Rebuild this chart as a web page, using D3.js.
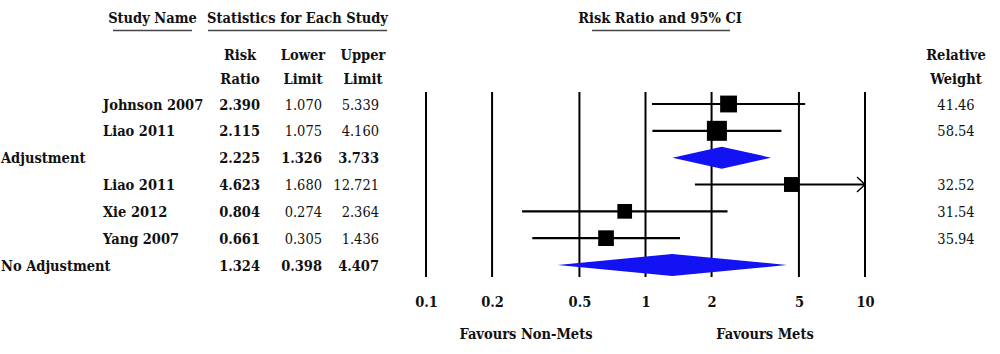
<!DOCTYPE html>
<html>
<head>
<meta charset="utf-8">
<script src="https://cdn.jsdelivr.net/npm/d3@7/dist/d3.min.js"></script>
<style>
  html, body { margin: 0; padding: 0; background: #fff; }
  svg { display: block; }
  text { font-family: "DejaVu Serif Condensed", "DejaVu Serif", serif; font-stretch: condensed; fill: #111; }
</style>
</head>
<body>
<svg id="chart" width="1000" height="354"></svg>
<script>
// ---- data ----
const studyNames = ["Johnson 2007", "Liao 2011", "Adjustment", "Liao 2011", "Xie 2012", "Yang 2007", "No Adjustment"];
const rowTypes   = ["study", "study", "summary", "study", "study", "study", "summary"];
const riskRatio  = [2.390, 2.115, 2.225, 4.623, 0.804, 0.661, 1.324];
const lowerLimit = [1.070, 1.075, 1.326, 1.680, 0.274, 0.305, 0.398];
const upperLimit = [5.339, 4.160, 3.733, 12.721, 2.364, 1.436, 4.407];
const relWeight  = [41.46, 58.54, null, 32.52, 31.54, 35.94, null];
const tickValues = [0.1, 0.2, 0.5, 1, 2, 5, 10];
const tickLabels = ["0.1", "0.2", "0.5", "1", "2", "5", "10"];

const rows = studyNames.map((n, i) => ({
  i, name: n, type: rowTypes[i], rr: riskRatio[i], lo: lowerLimit[i], hi: upperLimit[i], w: relWeight[i]
}));

const svg = d3.select("#chart");
const x = d3.scaleLog().domain([0.1, 10]).range([426, 865]);
const y = d3.scalePoint().domain(d3.range(rows.length)).range([104, 265]);
const size = d3.scaleSqrt().domain([0, 58.54]).range([0, 20]);
const f3 = d3.format(".3f"), f2 = d3.format(".2f");
const blue = "#1212f2";
const fs = "14.5px";

// ---- headers ----
const hdr = svg.append("g").attr("font-weight", "bold").attr("font-size", fs);
hdr.append("text").attr("x", 152.5).attr("y", 22.5).attr("text-anchor", "middle").text("Study Name");
hdr.append("text").attr("x", 297.5).attr("y", 22.5).attr("text-anchor", "middle").text("Statistics for Each Study");
hdr.append("text").attr("x", 660).attr("y", 22.5).attr("text-anchor", "middle").text("Risk Ratio and 95% CI");
const ul = [[113, 192], [208, 387], [592, 730]];
svg.selectAll("line.ul").data(ul).join("line").attr("class", "ul")
  .attr("x1", d => d[0]).attr("x2", d => d[1]).attr("y1", 30.5).attr("y2", 30.5)
  .attr("stroke", "#444").attr("stroke-width", 1.6);

const colHead = [[240, "Risk", "Ratio"], [303, "Lower", "Limit"], [363, "Upper", "Limit"], [956, "Relative", "Weight"]];
colHead.forEach(c => {
  hdr.append("text").attr("x", c[0]).attr("y", 59.5).attr("text-anchor", "middle").text(c[1]);
  hdr.append("text").attr("x", c[0]).attr("y", 83.5).attr("text-anchor", "middle").text(c[2]);
});

// ---- table ----
const tbl = svg.append("g").attr("font-size", fs);
const tr = tbl.selectAll("g.row").data(rows).join("g").attr("class", "row")
  .attr("transform", d => `translate(0,${y(d.i) + 5.5})`);
tr.append("text").attr("x", d => d.type === "summary" ? 1 : 103)
  .attr("font-weight", "bold").text(d => d.name);
tr.append("text").attr("x", 260).attr("text-anchor", "end").attr("font-weight", "bold").text(d => f3(d.rr));
tr.append("text").attr("x", 322).attr("text-anchor", "end")
  .attr("font-weight", d => d.type === "summary" ? "bold" : "normal").text(d => f3(d.lo));
tr.append("text").attr("x", 379).attr("text-anchor", "end")
  .attr("font-weight", d => d.type === "summary" ? "bold" : "normal").text(d => f3(d.hi));
tr.filter(d => d.w != null).append("text").attr("x", 956).attr("text-anchor", "middle")
  .text(d => f2(d.w));

// ---- plot grid lines ----
svg.selectAll("line.grid").data(tickValues).join("line").attr("class", "grid")
  .attr("x1", d => x(d)).attr("x2", d => x(d)).attr("y1", 92).attr("y2", 277)
  .attr("stroke", "#000").attr("stroke-width", 2);

// ---- axis labels ----
const axis = d3.axisBottom(x).tickValues(tickValues).tickFormat((d, i) => tickLabels[i]).tickSize(0).tickPadding(0);
const ag = svg.append("g").attr("transform", "translate(0,297)").call(axis);
ag.select(".domain").remove();
ag.selectAll("text").attr("font-size", fs).attr("font-weight", "bold").attr("fill", "#111")
  .attr("font-family", null);

svg.append("text").attr("x", 526).attr("y", 339).attr("text-anchor", "middle")
  .attr("font-weight", "bold").attr("font-size", fs).text("Favours Non-Mets");
svg.append("text").attr("x", 765).attr("y", 339).attr("text-anchor", "middle")
  .attr("font-weight", "bold").attr("font-size", fs).text("Favours Mets");

// ---- studies: CI lines & squares ----
const st = rows.filter(d => d.type === "study");
const xmax = x.domain()[1];
svg.selectAll("line.ci").data(st).join("line").attr("class", "ci")
  .attr("x1", d => x(d.lo)).attr("x2", d => x(Math.min(d.hi, xmax)))
  .attr("y1", d => y(d.i)).attr("y2", d => y(d.i))
  .attr("stroke", "#000").attr("stroke-width", 2.2);
svg.selectAll("path.arrow").data(st.filter(d => d.hi > xmax)).join("path").attr("class", "arrow")
  .attr("d", d => { const xe = x(xmax), yy = y(d.i); return `M${xe - 8},${yy - 7.5}L${xe},${yy}L${xe - 8},${yy + 7.5}`; })
  .attr("fill", "none").attr("stroke", "#000").attr("stroke-width", 1.4);
svg.selectAll("rect.sq").data(st).join("rect").attr("class", "sq")
  .attr("x", d => x(d.rr) - size(d.w) / 2).attr("y", d => y(d.i) - size(d.w) / 2)
  .attr("width", d => size(d.w)).attr("height", d => size(d.w)).attr("fill", "#000");

// ---- summaries: diamonds ----
svg.selectAll("path.dia").data(rows.filter(d => d.type === "summary")).join("path").attr("class", "dia")
  .attr("d", d => { const yy = y(d.i), h = 11;
    return `M${x(d.lo)},${yy}L${x(d.rr)},${yy - h}L${x(d.hi)},${yy}L${x(d.rr)},${yy + h}Z`; })
  .attr("fill", blue);
</script>
</body>
</html>
